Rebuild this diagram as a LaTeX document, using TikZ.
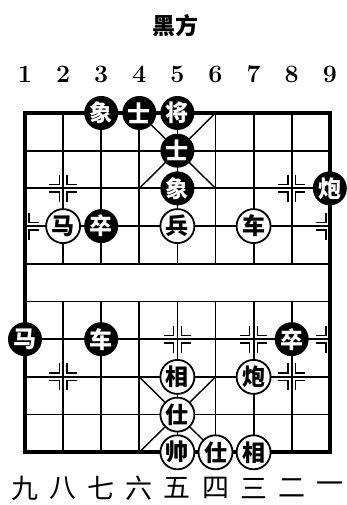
\documentclass[tikz,border=0pt]{standalone}
\usepackage{fontspec}
\newfontfamily\cjk{Noto Sans CJK SC}

\newcommand{\posmark}[3]{% column, row, sides
    \foreach \sx in {#3}
        \foreach \sy in {-1,1}
            \draw[marker, shift={(#1,#2)}] (\sx*0.1,\sy*0.36) -- (\sx*0.1,\sy*0.1) -- (\sx*0.36,\sy*0.1);
}

\begin{document}
\begin{tikzpicture}[
            x=38.1pt, y=-37.7pt,
            every node/.style={inner sep=0pt},
            boardline/.style={line width=1.8pt},
            border/.style={line width=4pt},
            palace/.style={line width=1.4pt},
            marker/.style={line width=1.4pt},
            piece/.style={circle, minimum size=34pt, font=\cjk\bfseries\fontsize{23}{23}\selectfont},
            redpc/.style={piece, draw, fill=white, line width=1.8pt},
            blackpc/.style={piece, fill=black, text=white},
            colnum/.style={font=\bfseries\fontsize{25}{25}\selectfont},
            cnnum/.style={font=\cjk\fontsize{27}{27}\selectfont}
        ]
        \useasboundingbox (0.344,-2.997) rectangle (9.451,10.398);

        % board
        \foreach \r in {1,...,8}
            \draw[boardline] (1,\r) -- (9,\r);
        \foreach \c in {2,...,8} {
            \draw[boardline] (\c,0) -- (\c,4);
            \draw[boardline] (\c,5) -- (\c,9);
        }
        \draw[border] (1,0) rectangle (9,9);
        \draw[palace] (4,0) -- (6,2) (6,0) -- (4,2) (4,7) -- (6,9) (6,7) -- (4,9);

        % markers
        \posmark{2}{2}{-1,1}
        \posmark{8}{2}{-1,1}
        \posmark{1}{3}{1}
        \posmark{9}{3}{-1}
        \posmark{5}{6}{-1,1}
        \posmark{7}{6}{-1,1}
        \posmark{9}{6}{-1}
        \posmark{2}{7}{-1,1}
        \posmark{8}{7}{-1,1}

        % labels
        \node[font=\cjk\bfseries\fontsize{23}{23}\selectfont] (side) at (4.95,-2.33) {黑方};
        \foreach \c in {1,...,9}
            \node[colnum] (top\c) at (\c,-1.03) {\c};
        \foreach \c/\n in {1/九,2/八,3/七,4/六,5/五,6/四,7/三,8/二,9/一}
            \node[cnnum] (bot\c) at (\c,9.95) {\n};

        % black pieces
        \node[blackpc] (bxiang1) at (3,0) {象};
        \node[blackpc] (bshi1) at (4,0) {士};
        \node[blackpc] (bjiang) at (5,0) {将};
        \node[blackpc] (bshi2) at (5,1) {士};
        \node[blackpc] (bxiang2) at (5,2) {象};
        \node[blackpc] (bpao) at (9,2) {炮};
        \node[blackpc] (bzu1) at (3,3) {卒};
        \node[blackpc] (bma) at (1,6) {马};
        \node[blackpc] (bche) at (3,6) {车};
        \node[blackpc] (bzu2) at (8,6) {卒};

        % red pieces
        \node[redpc] (rma) at (2,3) {马};
        \node[redpc] (rbing) at (5,3) {兵};
        \node[redpc] (rche) at (7,3) {车};
        \node[redpc] (rxiang1) at (5,7) {相};
        \node[redpc] (rpao) at (7,7) {炮};
        \node[redpc] (rshi1) at (5,8) {仕};
        \node[redpc] (rshuai) at (5,9) {帅};
        \node[redpc] (rshi2) at (6,9) {仕};
        \node[redpc] (rxiang2) at (7,9) {相};

    \end{tikzpicture}
\end{document}
